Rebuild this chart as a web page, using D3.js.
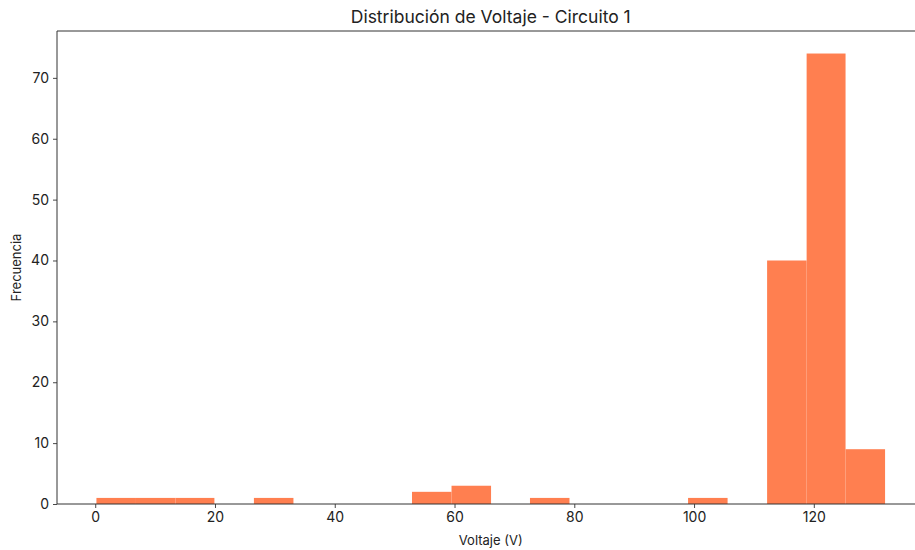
<!DOCTYPE html>
<html>
<head>
<meta charset="utf-8">
<script src="https://cdn.jsdelivr.net/npm/d3@7"></script>
<style>
  html, body { margin: 0; padding: 0; background: #fff; }
  svg { display: block; }
  text { font-family: Inter, "Open Sans", sans-serif; fill: #222; }
</style>
</head>
<body>
<div id="chart"></div>
<script>
const title = "Distribución de Voltaje - Circuito 1";
const xLabel = "Voltaje (V)";
const yLabel = "Frecuencia";
const binEdges = [0.2, 6.8, 13.4, 19.9, 26.5, 33.1, 39.7, 46.3, 52.9, 59.5, 66.1, 72.6, 79.2, 85.8, 92.4, 99.0, 105.6, 112.2, 118.8, 125.3, 131.9];
const counts = [1, 1, 1, 0, 1, 0, 0, 0, 2, 3, 0, 1, 0, 0, 0, 1, 0, 40, 74, 9];
const xTicks = [0, 20, 40, 60, 80, 100, 120];
const yTicks = [0, 10, 20, 30, 40, 50, 60, 70];

(function () {
const W = 915, H = 550;
const svg = d3.select("#chart").append("svg").attr("width", W).attr("height", H);

const bins = counts.map((c, i) => ({x0: binEdges[i], x1: binEdges[i + 1], n: c}));
const lo = binEdges[0], hi = binEdges[binEdges.length - 1];
const pad = (hi - lo) * 0.05;
const yMax = d3.max(counts) * 1.05;

const mLeft = 57, mTop = 31, mBottom = 504;
const x = d3.scaleLinear().domain([lo - pad, hi + pad]).range([mLeft, 924.5]);
const y = d3.scaleLinear().domain([0, yMax]).range([mBottom, mTop]);

// bars
svg.append("g").selectAll("rect").data(bins.filter(b => b.n > 0)).join("rect")
  .attr("x", d => x(d.x0))
  .attr("y", d => y(d.n))
  .attr("width", d => x(d.x1) - x(d.x0))
  .attr("height", d => y(0) - y(d.n))
  .attr("fill", "#ff7f50");

// axes
const xAxis = svg.append("g").attr("transform", `translate(0,${mBottom})`)
  .call(d3.axisBottom(x).tickValues(xTicks).tickFormat(d3.format("d")).tickSize(4).tickPadding(4));
const yAxis = svg.append("g").attr("transform", `translate(${mLeft},0)`)
  .call(d3.axisLeft(y).tickValues(yTicks).tickFormat(d3.format("d")).tickSize(4).tickPadding(4));
[xAxis, yAxis].forEach(a => {
  a.select(".domain").remove();
  a.selectAll(".tick line").attr("stroke", "#333").attr("stroke-width", 0.9);
  a.selectAll(".tick text").style("font-size", "14px").style("font-family", "Inter, sans-serif").attr("fill", "#222");
});

// spines (left, top, bottom; right is outside view)
svg.append("line").attr("x1", mLeft).attr("x2", mLeft).attr("y1", mTop).attr("y2", mBottom)
  .attr("stroke", "#333").attr("stroke-width", 1);
svg.append("line").attr("x1", mLeft).attr("x2", W).attr("y1", mTop).attr("y2", mTop)
  .attr("stroke", "#333").attr("stroke-width", 1);
svg.append("line").attr("x1", mLeft).attr("x2", W).attr("y1", mBottom).attr("y2", mBottom)
  .attr("stroke", "#333").attr("stroke-width", 1);

// title & labels
const cx = (x.range()[0] + x.range()[1]) / 2;
svg.append("text").attr("x", cx).attr("y", 23).attr("text-anchor", "middle")
  .style("font-size", "17.5px").text(title);
svg.append("text").attr("x", cx).attr("y", 545).attr("text-anchor", "middle")
  .style("font-size", "13px").text(xLabel);
svg.append("text").attr("transform", `translate(21,${(mTop + mBottom) / 2}) rotate(-90)`)
  .attr("text-anchor", "middle").style("font-size", "13px").text(yLabel);
})();
</script>
</body>
</html>
